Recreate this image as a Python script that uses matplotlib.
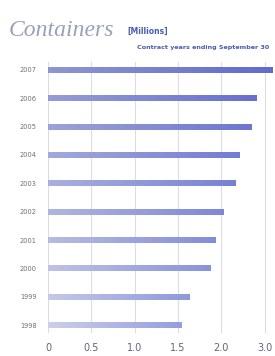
import matplotlib
matplotlib.use('Agg')
import matplotlib.pyplot as plt
import numpy as np
from matplotlib.colors import LinearSegmentedColormap

years = ['1998', '1999', '2000', '2001', '2002', '2003', '2004', '2005', '2006', '2007']
containers = [1.54, 1.63, 1.87, 1.93, 2.03, 2.16, 2.21, 2.35, 2.41, 2.59]
tick_vals = [0, 0.5, 1.0, 1.5, 2.0, 2.5]
tick_labels = ['0', '0.5', '1.0', '1.5', '2.0', '3.0']

fig = plt.figure(figsize=(2.75, 3.56), dpi=100)
ax = fig.add_axes([0.1745, 0.0646, 0.8255, 0.7614])

ypos = np.arange(len(years))
bars = ax.barh(ypos, containers, height=0.21, color='none', zorder=2)

# each bar gets a light-to-dark gradient, lower bars a bit paler
grad = np.linspace(0, 1, 256).reshape(1, -1)
for i, b in enumerate(bars):
    k = i / (len(years) - 1)
    left = np.array([0.80, 0.81, 0.92]) - np.array([0.24, 0.22, 0.10]) * k
    right = np.array([0.58, 0.62, 0.87]) - np.array([0.20, 0.20, 0.07]) * k
    cmap = LinearSegmentedColormap.from_list('bar%d' % i, [left, right])
    im = ax.imshow(grad, cmap=cmap, aspect='auto', zorder=2,
                   extent=[0, b.get_width(), b.get_y(), b.get_y() + b.get_height()])
    im.set_clip_path(b)

ax.set_xlim(0, 2.62)
ax.set_ylim(-0.28, 9.28)
ax.xaxis.grid(True, color='#dcdce4', linewidth=0.8, zorder=0)
ax.set_axisbelow(True)
ax.set_xticks(tick_vals)
ax.set_xticklabels(tick_labels, fontsize=7, color='#5f6478')
ax.set_yticks(ypos)
ax.set_yticklabels(years, fontsize=4.8, color='#707070')
ax.tick_params(length=0, pad=8)
ax.tick_params(axis='x', pad=7)
for s in ax.spines.values():
    s.set_visible(False)

fig.text(0.03, 0.9, 'Containers', family='Liberation Serif', style='italic',
         fontsize=17, color='#9aa0bc')
fig.text(0.465, 0.905, '[Millions]', fontsize=5.5, weight='bold', color='#4a5cb0')
fig.text(0.98, 0.862, 'Contract years ending September 30', fontsize=4.6,
         weight='bold', color='#4a5cb0', ha='right')

fig.savefig('out.png', dpi=100)
